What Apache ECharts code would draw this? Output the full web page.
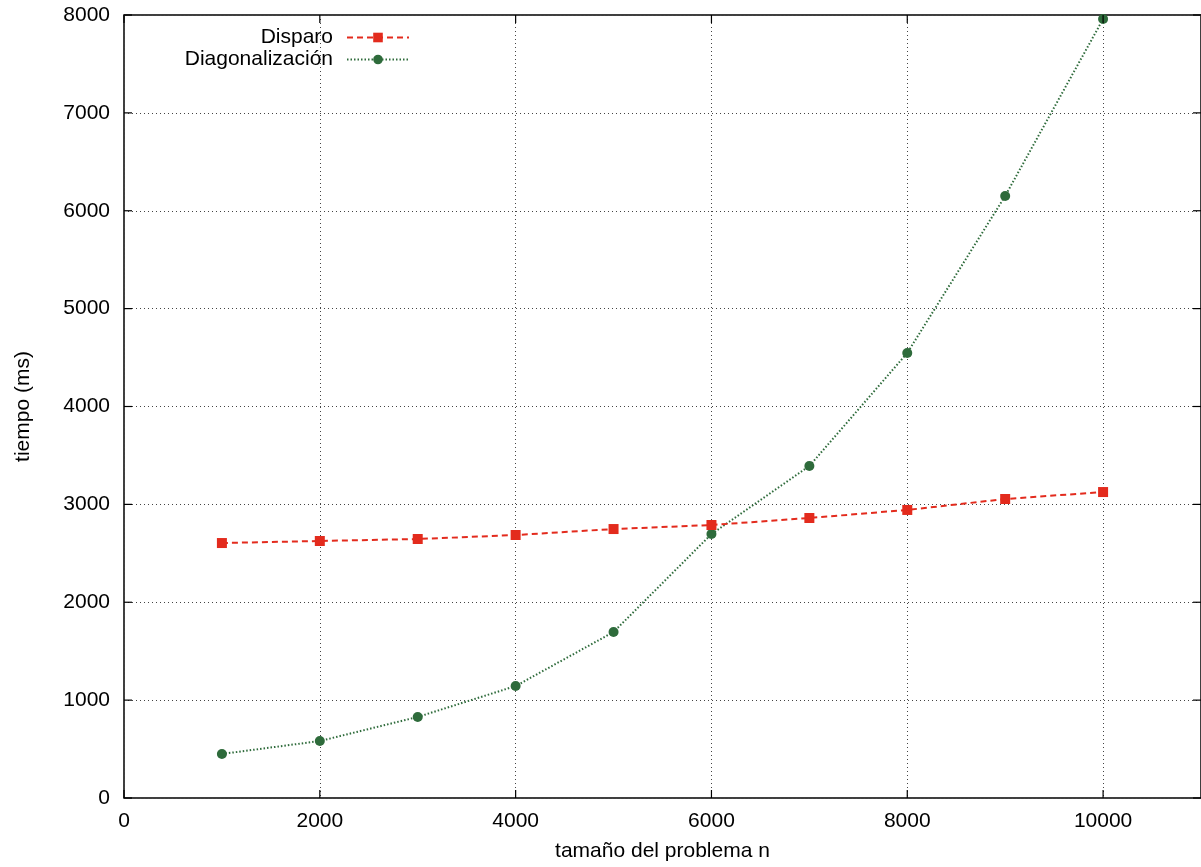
<!DOCTYPE html>
<html>
<head>
<meta charset="utf-8">
<script src="https://cdn.jsdelivr.net/npm/echarts@6/dist/echarts.min.js"></script>
<style>
  html, body { margin: 0; padding: 0; background: #fff; }
  #chart { width: 1201px; height: 867px; }
</style>
</head>
<body>
<div id="chart"></div>
<script>
// Problem sizes n
const sizes = [1000, 2000, 3000, 4000, 5000, 6000, 7000, 8000, 9000, 10000];
// Run times in ms for each method
const disparo = [2605, 2626, 2646, 2687, 2748, 2789, 2861, 2943, 3055, 3126];
const diagonalizacion = [450, 582, 828, 1144, 1696, 2697, 3392, 4547, 6151, 7959];

// Axis tick positions
const xTicks = [0, 2000, 4000, 6000, 8000, 10000];
const yTicks = [0, 1000, 2000, 3000, 4000, 5000, 6000, 7000, 8000];

const seriesNames = ['Disparo', 'Diagonalización'];
const xAxisName = 'tamaño del problema n';
const yAxisName = 'tiempo (ms)';

const font = '"Liberation Sans", Arial, Helvetica, sans-serif';
const fs = 21;
const red = '#e32b1d';
const green = '#2e6b3b';

const X_MIN = 0, X_MAX = 11000, X_STEP = 2000;
const Y_MIN = 0, Y_MAX = 8000, Y_STEP = 1000;
const TICK_LEN = 8;

const pairs = (ys) => sizes.map((x, i) => [x, ys[i]]);
const plain = (v) => String(v);

const chart = echarts.init(document.getElementById('chart'), null, { renderer: 'canvas' });

const gridLine = () => ({ show: true, lineStyle: { color: '#444', type: [1, 3], width: 1 } });

const legendBase = (name, top) => ({
  data: [name],
  orient: 'vertical', align: 'right',
  right: 786, top: top,
  itemWidth: 62, itemHeight: 12,
  textStyle: { fontFamily: font, fontSize: fs, color: '#000', padding: [0, 9, 0, 0] }
});

// Inward tick marks on all four sides of the plot box (gnuplot style)
const tickStyle = { stroke: '#000', lineWidth: 1.2 };
const seg = (x1, y1, x2, y2) => ({ type: 'line', shape: { x1, y1, x2, y2 }, style: tickStyle, silent: true });

const tickData = xTicks.map(v => ['x', v]).concat(yTicks.map(v => ['y', v]));

chart.setOption({
  animation: false,
  backgroundColor: '#fff',
  textStyle: { fontFamily: font },
  grid: {
    left: 124, top: 15, right: 0, bottom: 69,
    show: true, borderColor: '#000', borderWidth: 1.5, backgroundColor: 'transparent'
  },
  legend: [legendBase(seriesNames[0], 22), legendBase(seriesNames[1], 44)],
  xAxis: {
    type: 'value', min: X_MIN, max: X_MAX, interval: X_STEP,
    name: xAxisName, nameLocation: 'middle', nameGap: 43,
    nameTextStyle: { fontFamily: font, fontSize: fs, color: '#000' },
    axisLine: { show: false },
    axisTick: { show: false },
    axisLabel: { fontFamily: font, fontSize: fs, color: '#000', margin: 13,
      showMaxLabel: false, formatter: plain },
    splitLine: gridLine()
  },
  yAxis: {
    type: 'value', min: Y_MIN, max: Y_MAX, interval: Y_STEP,
    name: yAxisName, nameLocation: 'middle', nameGap: 90, nameRotate: 90,
    nameTextStyle: { fontFamily: font, fontSize: fs, color: '#000' },
    axisLine: { show: false },
    axisTick: { show: false },
    axisLabel: { fontFamily: font, fontSize: fs, color: '#000', margin: 14, formatter: plain },
    splitLine: gridLine()
  },
  series: [
    {
      name: seriesNames[0], type: 'line', data: pairs(disparo),
      symbol: 'rect', symbolSize: 10,
      itemStyle: { color: red },
      lineStyle: { color: red, width: 2, type: [6, 4] },
      z: 3
    },
    {
      name: seriesNames[1], type: 'line', data: pairs(diagonalizacion),
      symbol: 'circle', symbolSize: 10,
      itemStyle: { color: green },
      lineStyle: { color: green, width: 2, type: [1.5, 2] },
      z: 2
    },
    {
      name: 'ticks', type: 'custom', clip: false, silent: true, z: 4,
      encode: { x: -1, y: -1 },
      data: tickData,
      renderItem: (params, api) => {
        const axis = tickData[params.dataIndex][0];
        const v = tickData[params.dataIndex][1];
        if (axis === 'x') {
          const b = api.coord([v, Y_MIN]);
          const t = api.coord([v, Y_MAX]);
          return { type: 'group', children: [
            seg(b[0], b[1], b[0], b[1] - TICK_LEN),
            seg(t[0], t[1], t[0], t[1] + TICK_LEN)
          ] };
        }
        const l = api.coord([X_MIN, v]);
        const r = api.coord([X_MAX, v]);
        return { type: 'group', children: [
          seg(l[0], l[1], l[0] + TICK_LEN, l[1]),
          seg(r[0], r[1], r[0] - TICK_LEN, r[1])
        ] };
      }
    }
  ]
});
</script>
</body>
</html>
